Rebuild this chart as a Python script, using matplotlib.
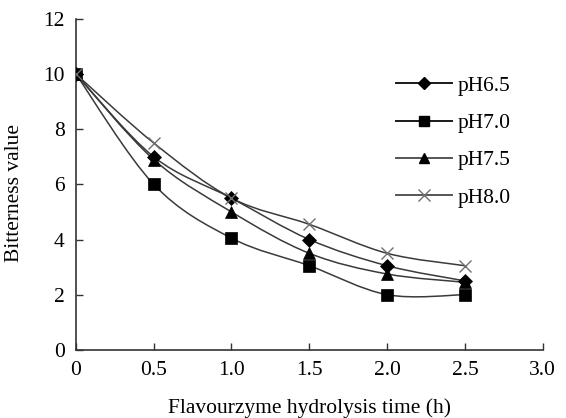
import matplotlib

matplotlib.use("Agg")
import matplotlib.pyplot as plt  # noqa: E402
import numpy as np  # noqa: E402
from matplotlib.lines import Line2D  # noqa: E402
from matplotlib.patches import PathPatch  # noqa: E402
from matplotlib.path import Path  # noqa: E402

plt.rcParams["font.family"] = ["Liberation Serif", "DejaVu Serif"]

time_h = [0, 0.5, 1.0, 1.5, 2.0, 2.5]
ph65 = [10, 7.0, 5.5, 4.0, 3.05, 2.5]
ph70 = [10, 6.0, 4.05, 3.05, 2.0, 2.0]
ph75 = [10, 6.9, 5.0, 3.5, 2.75, 2.45]
ph80 = [10, 7.5, 5.5, 4.55, 3.5, 3.05]
labels = ["pH6.5", "pH7.0", "pH7.5", "pH8.0"]

FS = 15.5


def smooth_path(xs, ys):
    """Excel-like smoothed line: cubic Bezier segments through the points."""
    pts = np.column_stack([xs, ys]).astype(float)
    n = len(pts)
    verts = [pts[0]]
    codes = [Path.MOVETO]
    for i in range(n - 1):
        p0 = pts[max(i - 1, 0)]
        p1 = pts[i]
        p2 = pts[i + 1]
        p3 = pts[min(i + 2, n - 1)]
        c1 = p1 + (p2 - p0) / 6.0
        c2 = p2 - (p3 - p1) / 6.0
        verts += [c1, c2, p2]
        codes += [Path.CURVE4] * 3
    return Path(verts, codes)


series = [
    (ph65, "D", 7, "black", "#1a1a1a"),
    (ph70, "s", 8, "black", "#1a1a1a"),
    (ph75, "^", 8.5, "black", "#555555"),
    (ph80, "x", 9, "#707070", "#555555"),
]

fig = plt.figure(figsize=(5.66, 4.18), dpi=100)
ax = fig.add_axes([0.134, 0.163, 0.825, 0.792])

handles = []
for (vals, marker, ms, mcolor, lcolor), lab in zip(series, labels):
    patch = PathPatch(smooth_path(time_h, vals), facecolor="none",
                      edgecolor="#3a3a3a", lw=1.1, zorder=2)
    ax.add_patch(patch)
    ax.plot(time_h, vals, linestyle="none", marker=marker, markersize=ms,
            color=mcolor, markeredgewidth=1.0 if marker == "x" else 0.5,
            zorder=3)
    handles.append(Line2D([], [], color=lcolor, lw=1.4, marker=marker,
                          markersize=ms - 1, markerfacecolor=mcolor,
                          markeredgecolor=mcolor, label=lab))

ax.set_xlim(0, 3.0)
ax.set_ylim(0, 12)
ax.set_xticks([0, 0.5, 1.0, 1.5, 2.0, 2.5, 3.0])
ax.set_xticklabels(["0", "0.5", "1.0", "1.5", "2.0", "2.5", "3.0"])
ax.set_yticks(range(0, 13, 2))
ax.spines["top"].set_visible(False)
ax.spines["right"].set_visible(False)
for side in ("left", "bottom"):
    ax.spines[side].set_color("#333333")
    ax.spines[side].set_linewidth(1.2)
ax.tick_params(axis="both", direction="in", length=5, width=1.0,
               color="#333333", labelsize=FS)
ax.tick_params(axis="y", pad=8)
ax.tick_params(axis="x", pad=8)
ax.set_xlabel("Flavourzyme hydrolysis time (h)", fontsize=FS)
ax.set_ylabel("Bitterness value", fontsize=FS)
ax.xaxis.set_label_coords(0.5, -0.145)
ax.yaxis.set_label_coords(-0.112, 0.474)

ax.legend(handles=handles, loc="upper left", bbox_to_anchor=(0.685, 0.828),
          frameon=False, fontsize=FS, handlelength=2.6, labelspacing=0.8,
          handletextpad=0.28, borderpad=0, borderaxespad=0)

fig.savefig("out.png", dpi=100)
plt.close(fig)
